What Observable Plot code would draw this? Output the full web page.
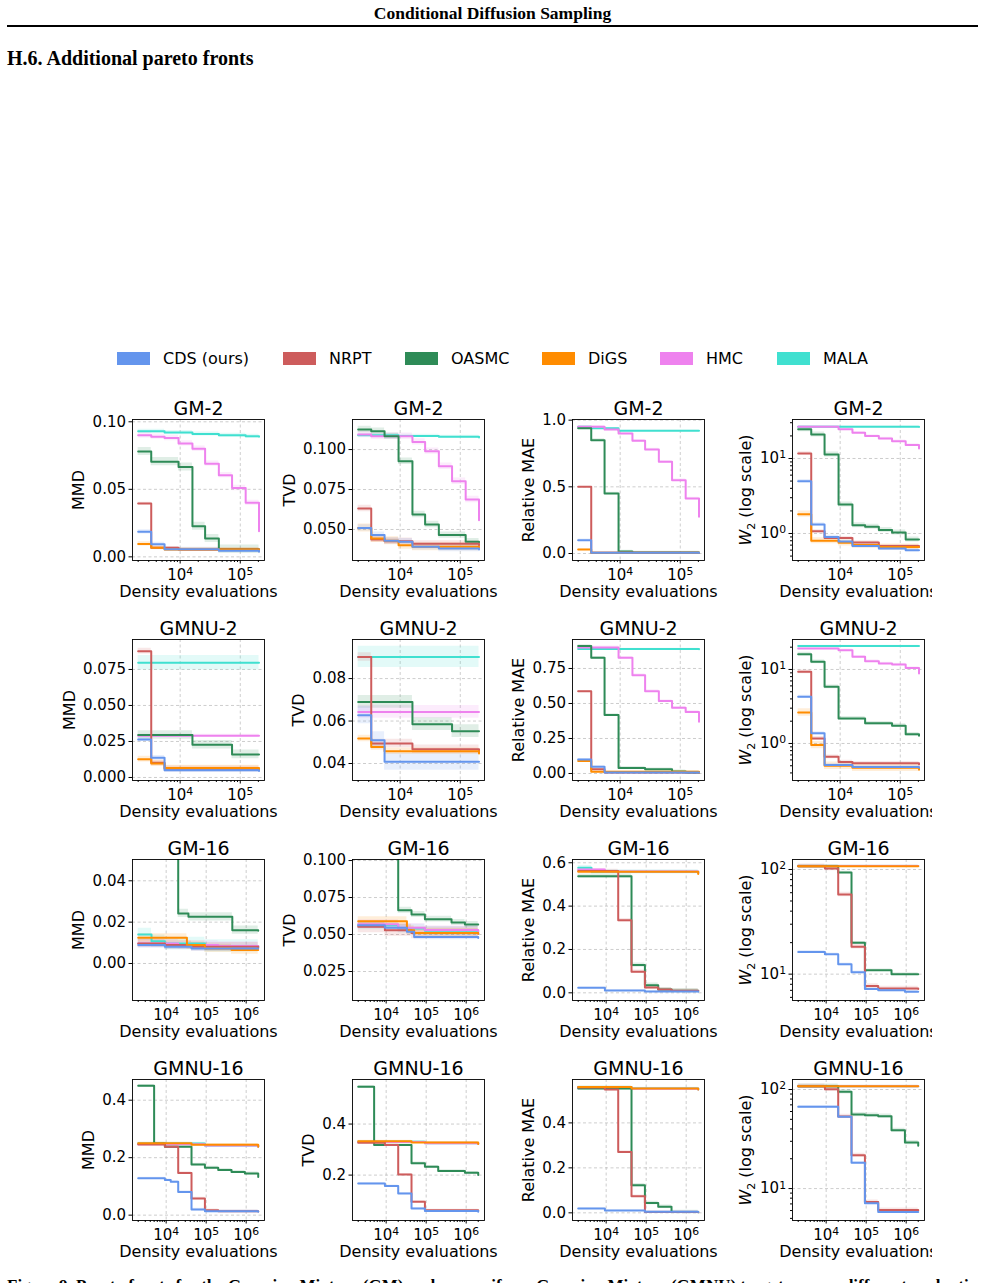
<!DOCTYPE html>
<html><head><meta charset="utf-8">
<script src="https://cdn.jsdelivr.net/npm/d3@7"></script>
<script src="https://cdn.jsdelivr.net/npm/@observablehq/plot@0.6"></script>
<style>
html,body{margin:0;padding:0;background:#fff;}
body{width:985px;height:1283px;position:relative;overflow:hidden;font-family:"DejaVu Sans",sans-serif;color:#000;}
.abs{position:absolute;}
.serif{font-family:"Liberation Serif","Times New Roman",serif;font-weight:bold;white-space:nowrap;}
.lg{position:absolute;font-size:16px;line-height:16px;white-space:nowrap;}
.sw{position:absolute;width:33px;height:13px;}
</style></head><body>
<div class="abs serif" style="left:0;width:985px;top:3px;text-align:center;font-size:17.5px;line-height:20px;">Conditional Diffusion Sampling</div>
<div class="abs" style="left:7px;width:971px;top:25px;height:2px;background:#000;"></div>
<div class="abs serif" style="left:7px;top:46px;font-size:20px;line-height:24px;">H.6. Additional pareto fronts</div>
<div id="legend"></div>
<div id="panels"></div>
<div class="abs serif" style="left:7px;top:1276px;font-size:17px;line-height:20px;">Figure 9. Pareto fronts for the Gaussian Mixture (GM) and non-uniform Gaussian Mixture (GMNU) targets across different evaluation metrics (MMD, TVD) and dimensions.</div>
<script>
// ---------- series identity ----------
const methods = ["CDS (ours)", "NRPT", "OASMC", "DiGS", "HMC", "MALA"];
const methodKeys = ["CDS", "NRPT", "OASMC", "DiGS", "HMC", "MALA"];
const colors = ["#6495ED", "#CD5C5C", "#2E8B57", "#FF8C00", "#EE82EE", "#40E0D0"];
const drawOrder = ["MALA", "HMC", "OASMC", "NRPT", "DiGS", "CDS"];

// ---------- panel labels & axes ----------
const rowTitles = ["GM-2", "GMNU-2", "GM-16", "GMNU-16"];
const metricLabels = ["MMD", "TVD", "Relative MAE", "W2 (log scale)"];
const xLabel = "Density evaluations";
const xDomains = [[1610, 253000], [1610, 253000], [1440, 2870000], [1440, 2870000]];
const xMajor = [[1e4, 1e5], [1e4, 1e5], [1e4, 1e5, 1e6], [1e4, 1e5, 1e6]];
const yDomains = [
  [-0.0027, 0.1017], [0.0306, 0.1188], [-0.0525, 1.005], [0.4365, 33.1],
  [-0.0021, 0.0958], [0.0320, 0.0984], [-0.05, 0.957], [0.316, 25.4],
  [-0.0179, 0.0503], [0.0054, 0.1007], [-0.0354, 0.615], [5.6, 124.6],
  [-0.0186, 0.472], [0.0222, 0.5745], [-0.0341, 0.593], [4.76, 126.2]
];
const yTicks = [
  [0, 0.05, 0.1], [0.05, 0.075, 0.1], [0, 0.5, 1], [1, 10],
  [0, 0.025, 0.05, 0.075], [0.04, 0.06, 0.08], [0, 0.25, 0.5, 0.75], [1, 10],
  [0, 0.02, 0.04], [0.025, 0.05, 0.075, 0.1], [0, 0.2, 0.4, 0.6], [10, 100],
  [0, 0.2, 0.4], [0.2, 0.4], [0, 0.2, 0.4], [10, 100]
];
const yDecimals = [2, 3, 1, 0, 3, 2, 2, 0, 2, 3, 1, 0, 1, 1, 1, 0];

// ---------- data: [method, spread (abs, or factor for log panels), [[evals, value], ...]] ----------
const GM2_MMD = [
  ["MALA", 0.0015, [[2000,.093],[5500,.092],[16000,.091],[44000,.090],[123000,.0893],[205000,.089]]],
  ["HMC", 0.002, [[2000,.090],[3300,.089],[5500,.088],[9400,.084],[16000,.080],[26000,.069],[44000,.0605],[73000,.051],[123000,.040],[205000,.019]]],
  ["OASMC", 0.003, [[2000,.078],[3300,.0705],[9400,.0665],[16000,.0227],[26000,.0136],[44000,.0057],[205000,.005]]],
  ["NRPT", 0.001, [[2000,.0395],[3300,.0067],[9400,.0055],[205000,.0045]]],
  ["DiGS", 0.0015, [[2000,.0096],[3300,.0067],[5500,.0054],[205000,.0042]]],
  ["CDS", 0.0015, [[2000,.0185],[3300,.0094],[5500,.0057],[44000,.0045],[205000,.0037]]]
];
const GM2_TVD = [
  ["MALA", 0.001, [[2000,.109],[9400,.1085],[44000,.108],[205000,.1075]]],
  ["HMC", 0.002, [[2000,.1094],[3300,.1083],[16000,.1048],[26000,.099],[44000,.0896],[73000,.0802],[123000,.0688],[205000,.0558]]],
  ["OASMC", 0.002, [[2000,.1125],[3300,.1115],[5500,.1083],[9400,.0927],[16000,.0594],[26000,.0531],[44000,.0465],[123000,.0423],[205000,.042]]],
  ["NRPT", 0.002, [[2000,.0631],[3300,.0438],[5500,.0427],[16000,.041],[205000,.0402]]],
  ["DiGS", 0.0025, [[2000,.051],[3300,.0444],[5500,.043],[9400,.0402],[16000,.0392],[205000,.0388]]],
  ["CDS", 0.002, [[2000,.051],[3300,.0465],[5500,.0429],[9400,.0423],[16000,.0392],[44000,.0381],[205000,.0375]]]
];
const GM2_MAE = [
  ["MALA", 0.005, [[2000,.95],[3300,.94],[9400,.92],[205000,.92]]],
  ["HMC", 0.01, [[2000,.95],[5500,.93],[9400,.90],[16000,.845],[26000,.78],[44000,.6875],[73000,.55],[123000,.4125],[205000,.275]]],
  ["OASMC", 0.01, [[2000,.94],[3300,.85],[5500,.45],[9400,.015],[16000,.007],[205000,.003]]],
  ["NRPT", 0.003, [[2000,.50],[3300,.005],[205000,.003]]],
  ["DiGS", 0.003, [[2000,.03],[3300,.005],[205000,.003]]],
  ["CDS", 0.008, [[2000,.10],[3300,.005],[205000,.003]]]
];
const GM2_W2 = [
  ["MALA", 1.03, [[2000,26.4],[205000,26.3]]],
  ["HMC", 1.04, [[2000,26.4],[9400,24.5],[16000,22.0],[26000,20.0],[44000,18.5],[73000,17.0],[123000,15.1],[205000,13.6]]],
  ["OASMC", 1.08, [[2000,24.6],[3300,20.9],[5500,11.3],[9400,2.44],[16000,1.29],[26000,1.23],[44000,1.11],[73000,1.03],[123000,0.83],[205000,0.83]]],
  ["NRPT", 1.05, [[2000,11.7],[3300,1.07],[5500,0.87],[16000,0.76],[44000,0.68],[205000,0.66]]],
  ["DiGS", 1.1, [[2000,1.81],[3300,0.80],[9400,0.75],[16000,0.70],[44000,0.66],[205000,0.66]]],
  ["CDS", 1.05, [[2000,4.99],[3300,1.32],[5500,0.90],[9400,0.78],[16000,0.68],[44000,0.63],[123000,0.60],[205000,0.60]]]
];
const GMNU2_MMD = [
  ["MALA", 0.005, [[2000,.0797],[205000,.0797]]],
  ["HMC", 0.001, [[2000,.029],[205000,.029]]],
  ["OASMC", 0.003, [[2000,.0295],[16000,.0227],[73000,.016],[205000,.016]]],
  ["NRPT", 0.002, [[2000,.0877],[3300,.0102],[5500,.0060],[205000,.005]]],
  ["DiGS", 0.002, [[2000,.0127],[3300,.0097],[5500,.0065],[205000,.0055]]],
  ["CDS", 0.0015, [[2000,.0264],[3300,.0137],[5500,.0051],[205000,.0045]]]
];
const GMNU2_TVD = [
  ["MALA", 0.005, [[2000,.0902],[205000,.0902]]],
  ["HMC", 0.003, [[2000,.0643],[205000,.0643]]],
  ["OASMC", 0.003, [[2000,.069],[16000,.0585],[73000,.0552],[205000,.0552]]],
  ["NRPT", 0.002, [[2000,.0902],[3300,.0494],[16000,.0467],[205000,.0463]]],
  ["DiGS", 0.0015, [[2000,.0518],[3300,.0478],[5500,.0458],[205000,.0447]]],
  ["CDS", 0.004, [[2000,.0627],[3300,.051],[5500,.0408],[205000,.0408]]]
];
const GMNU2_MAE = [
  ["MALA", 0.005, [[2000,.89],[205000,.888]]],
  ["HMC", 0.01, [[2000,.90],[9400,.826],[16000,.702],[26000,.588],[44000,.517],[73000,.469],[123000,.44],[205000,.369]]],
  ["OASMC", 0.01, [[2000,.91],[3300,.826],[5500,.417],[9400,.040],[26000,.030],[73000,.015],[123000,.008],[205000,.007]]],
  ["NRPT", 0.005, [[2000,.588],[3300,.031],[5500,.008],[205000,.005]]],
  ["DiGS", 0.005, [[2000,.09],[3300,.012],[205000,.005]]],
  ["CDS", 0.008, [[2000,.10],[3300,.048],[5500,.007],[205000,.005]]]
];
const GMNU2_W2 = [
  ["MALA", 1.03, [[2000,20.7],[205000,20.7]]],
  ["HMC", 1.04, [[2000,19.2],[9400,18.2],[16000,14.8],[26000,12.96],[44000,12.0],[73000,11.7],[123000,10.5],[205000,8.8]]],
  ["OASMC", 1.06, [[2000,16.1],[3300,12.7],[5500,5.83],[9400,2.18],[26000,1.87],[73000,1.74],[123000,1.33],[205000,1.27]]],
  ["NRPT", 1.06, [[2000,9.3],[3300,1.17],[5500,0.66],[9400,0.56],[16000,0.54],[205000,0.52]]],
  ["DiGS", 1.12, [[2000,2.62],[3300,0.95],[5500,0.50],[16000,0.47],[205000,0.44]]],
  ["CDS", 1.05, [[2000,4.27],[3300,1.37],[5500,0.51],[16000,0.48],[205000,0.47]]]
];
const GM16_MMD = [
  ["MALA", 0.003, [[2000,.014],[4300,.0108],[9300,.0097],[93000,.0085],[2000000,.008]]],
  ["HMC", 0.002, [[2000,.0097],[20000,.009],[200000,.0085],[2000000,.0084]]],
  ["OASMC", 0.002, [[2000,.3],[20000,.0242],[36000,.0226],[450000,.0161],[2000000,.0158]]],
  ["NRPT", 0.002, [[2000,.0097],[9300,.0089],[43000,.0081],[2000000,.0076]]],
  ["DiGS", 0.002, [[2000,.0124],[33000,.0089],[93000,.0073],[430000,.0065],[2000000,.0065]]],
  ["CDS", 0.0015, [[2000,.0089],[9300,.0081],[43000,.0073],[2000000,.0072]]]
];
const GM16_TVD = [
  ["MALA", 0.003, [[2000,.0563],[20000,.054],[93000,.0525],[2000000,.0518]]],
  ["HMC", 0.003, [[2000,.057],[20000,.0545],[93000,.053],[2000000,.0523]]],
  ["OASMC", 0.002, [[2000,.3],[20000,.0664],[43000,.0635],[93000,.0604],[430000,.0581],[930000,.0568],[2000000,.0568]]],
  ["NRPT", 0.004, [[2000,.0552],[9300,.0529],[43000,.0511],[2000000,.0505]]],
  ["DiGS", 0.003, [[2000,.059],[33000,.0529],[50000,.0511],[2000000,.0507]]],
  ["CDS", 0.002, [[2000,.0563],[9300,.0545],[33000,.0518],[50000,.0484],[2000000,.0477]]]
];
const GM16_MAE = [
  ["MALA", 0.01, [[2000,.577],[4300,.558],[2000000,.553]]],
  ["HMC", 0.005, [[2000,.569],[9300,.56],[2000000,.553]]],
  ["OASMC", 0.01, [[2000,.538],[43000,.128],[93000,.035],[200000,.015],[430000,.01],[2000000,.008]]],
  ["NRPT", 0.008, [[2000,.562],[20000,.335],[43000,.097],[93000,.025],[200000,.015],[430000,.01],[2000000,.009]]],
  ["DiGS", 0.003, [[2000,.558],[2000000,.548]]],
  ["CDS", 0.003, [[2000,.023],[9300,.011],[93000,.006],[2000000,.005]]]
];
const GM16_W2 = [
  ["MALA", 1.02, [[2000,108],[2000000,108]]],
  ["HMC", 1.02, [[2000,108],[2000000,108]]],
  ["OASMC", 1.03, [[2000,107.6],[20000,93.6],[43000,19.9],[93000,10.9],[430000,10],[2000000,10]]],
  ["NRPT", 1.05, [[2000,107.6],[9300,102],[20000,57.7],[43000,18.3],[93000,7.7],[200000,7.3],[2000000,7.2]]],
  ["DiGS", 1.02, [[2000,107.6],[2000000,107.6]]],
  ["CDS", 1.03, [[2000,16.3],[9300,15.5],[20000,12.4],[43000,10.4],[93000,7.2],[200000,7.0],[930000,6.8],[2000000,6.8]]]
];
const GMNU16_MMD = [
  ["MALA", 0.005, [[2000,.249],[93000,.242],[2000000,.238]]],
  ["HMC", 0.004, [[2000,.247],[93000,.242],[2000000,.238]]],
  ["OASMC", 0.005, [[2000,.45],[5000,.249],[9300,.238],[43000,.176],[93000,.165],[200000,.157],[430000,.15],[930000,.145],[2000000,.133]]],
  ["NRPT", 0.004, [[2000,.246],[9300,.238],[20000,.147],[43000,.058],[93000,.017],[200000,.014],[2000000,.013]]],
  ["DiGS", 0.004, [[2000,.25],[43000,.245],[2000000,.238]]],
  ["CDS", 0.004, [[2000,.128],[9300,.122],[13000,.116],[20000,.081],[43000,.0197],[93000,.014],[2000000,.0116]]]
];
const GMNU16_TVD = [
  ["MALA", 0.005, [[2000,.331],[93000,.325],[2000000,.322]]],
  ["HMC", 0.004, [[2000,.33],[93000,.325],[2000000,.322]]],
  ["OASMC", 0.005, [[2000,.546],[5000,.318],[43000,.246],[93000,.233],[200000,.216],[930000,.209],[2000000,.200]]],
  ["NRPT", 0.004, [[2000,.327],[9300,.318],[20000,.2026],[43000,.0954],[93000,.0627],[2000000,.060]]],
  ["DiGS", 0.004, [[2000,.333],[43000,.328],[2000000,.322]]],
  ["CDS", 0.004, [[2000,.167],[9300,.157],[20000,.128],[43000,.069],[93000,.059],[2000000,.056]]]
];
const GMNU16_MAE = [
  ["MALA", 0.005, [[2000,.56],[43000,.553],[2000000,.548]]],
  ["HMC", 0.004, [[2000,.557],[43000,.552],[2000000,.548]]],
  ["OASMC", 0.008, [[2000,.553],[43000,.123],[93000,.044],[200000,.027],[430000,.004],[2000000,.003]]],
  ["NRPT", 0.005, [[2000,.557],[9300,.548],[20000,.271],[43000,.074],[93000,.004],[2000000,.003]]],
  ["DiGS", 0.003, [[2000,.56],[43000,.553],[2000000,.548]]],
  ["CDS", 0.003, [[2000,.019],[9300,.01],[93000,.005],[2000000,.004]]]
];
const GMNU16_W2 = [
  ["MALA", 1.02, [[2000,108],[2000000,108]]],
  ["HMC", 1.02, [[2000,108],[2000000,108]]],
  ["OASMC", 1.05, [[2000,108],[20000,94.7],[43000,55.9],[93000,55.1],[200000,53.8],[430000,38.8],[930000,29.1],[2000000,27]]],
  ["NRPT", 1.05, [[2000,108],[9300,100.8],[20000,53.5],[43000,21.7],[93000,7.3],[200000,6.06],[2000000,6.0]]],
  ["DiGS", 1.02, [[2000,108],[2000000,108]]],
  ["CDS", 1.03, [[2000,66.8],[20000,53.0],[43000,18.2],[93000,7.1],[200000,5.8],[2000000,5.8]]]
];
const panels = [
  GM2_MMD, GM2_TVD, GM2_MAE, GM2_W2,
  GMNU2_MMD, GMNU2_TVD, GMNU2_MAE, GMNU2_W2,
  GM16_MMD, GM16_TVD, GM16_MAE, GM16_W2,
  GMNU16_MMD, GMNU16_TVD, GMNU16_MAE, GMNU16_W2
];

// ---------- legend ----------
const legendX = [117, 283, 405, 542, 660, 777];
const legend = document.getElementById("legend");
methods.forEach((m, i) => {
  const sw = document.createElement("div");
  sw.className = "sw";
  sw.style.left = legendX[i] + "px"; sw.style.top = "352px"; sw.style.background = colors[i];
  legend.appendChild(sw);
  const t = document.createElement("div");
  t.className = "lg";
  t.style.left = (legendX[i] + 46) + "px"; t.style.top = "351px";
  t.textContent = m;
  legend.appendChild(t);
});

// ---------- helpers ----------
const logFmt = v => "10^" + Math.round(Math.log10(v));
function minorLog([a, b]) {
  const out = [];
  for (let d = Math.floor(Math.log10(a)); d <= Math.ceil(Math.log10(b)); d++)
    for (let k = 2; k <= 9; k++) { const v = k * 10 ** d; if (v >= a && v <= b) out.push(v); }
  return out;
}
const ctx = document.createElement("canvas").getContext("2d");
ctx.font = "15px 'DejaVu Sans'";
const labelWidth = s => s.startsWith("10^") ? ctx.measureText("10").width + 8 : ctx.measureText(s).width;

const FL = 132.3, FT = 419.3, PITCH = 220, FW = 132, FH = 141;
const ML = 100, MT = 32, MB = 46;
const host = document.getElementById("panels");

for (let r = 0; r < 4; r++) {
  for (let c = 0; c < 4; c++) {
    const i = r * 4 + c;
    const isLog = c === 3;
    const MR = c === 3 ? 8 : 22;
    const fmt = isLog ? logFmt : d3.format(`.${yDecimals[i]}f`);
    const tw = Math.max(...yTicks[i].map(v => labelWidth(fmt(v))));
    const dLabel = tw + 20;
    const grid = {stroke: "#b0b0b0", strokeOpacity: 0.8, strokeDasharray: "3,2.5", strokeWidth: 0.8};
    const marks = [
      Plot.gridX(xMajor[r], grid),
      Plot.gridY(yTicks[i], grid)
    ];
    const series = drawOrder.map(k => panels[i].find(e => e[0] === k)).filter(Boolean);
    for (const [key, sp, pts] of series) {
      const col = colors[methodKeys.indexOf(key)];
      const rows = pts.map(([x, y]) => ({x, y, lo: isLog ? y / sp : y - sp, hi: isLog ? y * sp : y + sp}));
      marks.push(Plot.areaY(rows, {x: "x", y1: "lo", y2: "hi", curve: "step-after", fill: col, fillOpacity: 0.15, clip: true}));
    }
    for (const [key, sp, pts] of series) {
      const col = colors[methodKeys.indexOf(key)];
      const rows = pts.map(([x, y]) => ({x, y}));
      marks.push(Plot.line(rows, {x: "x", y: "y", curve: "step-after", stroke: col, strokeWidth: 2, clip: true}));
    }
    marks.push(
      Plot.frame({stroke: "#000", strokeWidth: 0.9}),
      Plot.axisX(xMajor[r], {tickSize: 3.5, tickPadding: 5.5, tickFormat: logFmt, fontSize: 15, label: null}),
      Plot.axisX(minorLog(xDomains[r]), {tickSize: 2, tickFormat: () => "", label: null}),
      Plot.axisY(yTicks[i], {tickSize: 3.5, tickPadding: 3, tickFormat: fmt, fontSize: 15, label: null}),
      Plot.text([rowTitles[r]], {frameAnchor: "top", dy: -5, lineAnchor: "bottom", text: d => d, fontSize: 19}),
      Plot.text([xLabel], {frameAnchor: "bottom", dy: 36.5, lineAnchor: "bottom", text: d => d, fontSize: 16}),
      Plot.text([metricLabels[c]], {frameAnchor: "left", dx: -dLabel, rotate: -90, textAnchor: "middle", lineAnchor: "middle", text: d => d, fontSize: 16})
    );
    if (isLog) marks.push(Plot.axisY(minorLog(yDomains[i]), {tickSize: 2, tickFormat: () => "", label: null}));

    const svg = Plot.plot({
      width: ML + FW + MR, height: MT + FH + MB,
      marginLeft: ML, marginRight: MR, marginTop: MT, marginBottom: MB,
      x: {type: "log", domain: xDomains[r]},
      y: {type: isLog ? "log" : "linear", domain: yDomains[i]},
      style: {fontFamily: "DejaVu Sans", fontSize: "15px", color: "#000", background: "transparent", overflow: c === 3 ? "hidden" : "visible"},
      marks
    });
    svg.style.position = "absolute";
    svg.style.left = (FL + c * PITCH - ML) + "px";
    svg.style.top = (FT + r * PITCH - MT) + "px";
    svg.querySelectorAll("text").forEach(t => {
      const s = t.textContent;
      const m = /^10\^(-?\d+)$/.exec(s);
      if (m) {
        t.innerHTML = `10<tspan dy="-0.45em" font-size="0.72em">${m[1]}</tspan>`;
      } else if (s === "W2 (log scale)") {
        t.innerHTML = '<tspan font-style="italic">W</tspan><tspan font-size="11" dy="4">2</tspan><tspan dy="-4"> (log scale)</tspan>';
      }
    });
    host.appendChild(svg);
  }
}
</script>
</body></html>
